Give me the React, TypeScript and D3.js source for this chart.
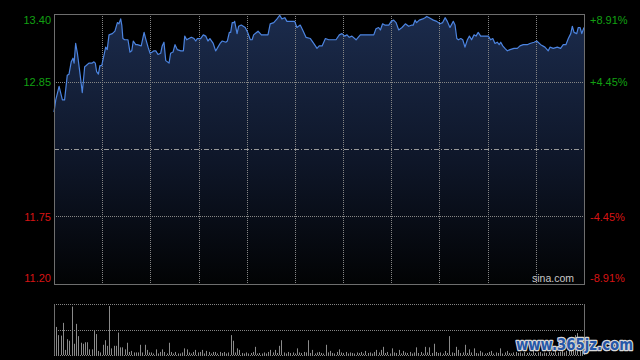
import React from "react";
import * as d3 from "d3";

// ---- data ----
const minutes = [0,0.8,2.3,3.8,4.8,6.0,6.8,7.8,8.6,9.1,9.8,10.6,11.8,12.8,13.9,14.6,15.8,17.3,18.1,18.7,19.3,20.1,20.8,21.6,22.6,23.4,24.1,24.9,26.4,27.6,28.7,29.4,30.2,30.7,31.2,32.0,33.5,34.4,35.2,35.9,37.0,37.7,39.5,40.8,41.5,42.6,43.5,44.5,45.3,46.1,47.1,48.3,49.0,49.8,50.6,52.1,52.8,53.9,54.8,55.8,57.4,58.6,59.2,60.1,61.1,62.2,63.4,64.2,64.9,66.4,67.6,68.7,69.7,70.6,72.1,73.2,73.9,75.2,76.2,77.8,78.5,79.4,80.0,80.7,81.5,
81.8,82.9,83.6,84.8,86.6,87.7,88.9,89.7,90.4,92.4,93.9,95.7,96.9,97.9,99.5,101.0,102.2,103.2,104.5,105.5,109.0,110.0,111.5,112.6,114.1,116.1,117.6,119.1,120.1,121.4,122.9,124.4,126.2,127.7,129.2,130.4,131.6,132.7,133.7,134.9,136.8,138.7,140.2,141.7,143.2,144.8,145.8,147.0,147.8,148.8,149.8,151.6,152.7,153.8,154.9,156.1,157.6,159.1,160.6,162.1,
162.7,163.5,164.2,165.4,167.0,168.0,168.8,169.9,171.8,173.3,174.8,176.0,177.1,178.1,179.3,180.8,181.6,182.4,183.1,184.2,185.1,186.1,187.2,188.1,189.1,190.2,191.1,192.1,193.2,196.7,197.7,198.7,199.7,200.7,201.6,202.3,203.2,204.2,205.3,206.5,208.3,209.8,211.0,212.5,214.3,215.5,217.4,218.6,220.4,222.3,223.8,224.6,226.1,227.9,229.4,230.6,231.8,232.9,234.0,234.7,235.5,236.7,237.4,238.2,239.0,240];

const prices = [12.60,12.70,12.81,12.70,12.70,12.90,12.91,13.01,13.04,13.00,13.16,13.08,12.91,12.76,12.97,12.98,13.00,13.00,13.01,13.00,12.93,12.91,12.98,12.98,13.06,13.13,13.11,13.23,13.24,13.26,13.33,13.32,13.36,13.31,13.20,13.19,13.19,13.09,13.10,13.18,13.15,13.15,13.14,13.25,13.20,13.13,13.08,13.09,13.10,13.10,13.07,13.08,13.14,13.17,13.02,13.00,13.08,13.09,13.15,13.11,13.10,13.10,13.22,13.19,13.20,13.21,13.20,13.18,13.20,13.20,13.23,13.22,13.18,13.20,13.16,13.10,13.12,13.16,13.18,13.17,13.18,13.25,13.25,13.33,13.33,
13.34,13.24,13.30,13.31,13.29,13.25,13.19,13.19,13.23,13.26,13.23,13.23,13.23,13.32,13.33,13.36,13.39,13.36,13.37,13.34,13.34,13.29,13.31,13.27,13.21,13.20,13.16,13.12,13.14,13.14,13.20,13.19,13.19,13.19,13.23,13.24,13.22,13.23,13.21,13.22,13.19,13.23,13.23,13.23,13.23,13.23,13.28,13.29,13.27,13.32,13.31,13.31,13.34,13.35,13.33,13.27,13.29,13.32,13.30,13.31,
13.31,13.35,13.33,13.35,13.36,13.37,13.38,13.37,13.35,13.34,13.32,13.33,13.37,13.34,13.29,13.34,13.31,13.20,13.19,13.20,13.19,13.13,13.19,13.22,13.19,13.23,13.22,13.25,13.22,13.22,13.19,13.20,13.16,13.17,13.15,13.17,13.14,13.12,13.10,13.11,13.12,13.12,13.14,13.15,13.15,13.16,13.17,13.18,13.15,13.13,13.10,13.13,13.12,13.13,13.12,13.15,13.15,13.20,13.24,13.30,13.25,13.24,13.29,13.29,13.24,13.29];

// volume per minute (relative units, panel top = 100)
const volumes = [100,55,39,38,63,10,31,28,95,22,61,37,24,22,25,25,11,11,47,41,8,5,20,29,18,96,13,18,18,44,15,15,11,24,6,8,5,5,5,20,5,20,10,5,5,3,11,3,6,11,6,3,24,6,3,6,3,3,5,13,11,5,3,6,10,5,6,10,3,8,6,3,6,6,3,6,
4,6,3,5,39,28,5,13,10,4,3,5,3,4,6,16,3,4,3,5,3,6,10,5,10,4,18,29,5,3,6,4,5,3,13,5,4,6,5,29,4,10,3,5,6,4,3,20,5,8,4,3,6,11,5,4,6,3,5,4,3,5,4,6,3,8,4,5,3,6,10,5,10,16,4,6,3,13,5,4,10,3,8,5,4,6,3,5,15,4,6,3,16,5,15,4,22,6,4,5,3,8,4,37,5,4,16,10,4,5,20,4,11,5,13,4,3,8,5,3,4,6,8,3,5,4,13,3,5,8,4,3,5,6,4,5,3,6,4,5,3,8,4,5,6,3,5,4,6,5,4,8,5,6,10,5,8,12,15,20,39,43,25,30,46];

const leftLabels = ["13.40", "12.85", "11.75", "11.20"];
const rightLabels = ["+8.91%", "+4.45%", "-4.45%", "-8.91%"];
const labelPrices = [13.40, 12.85, 11.75, 11.20];
const priceMin = 11.20;
const priceMax = 13.40;
const prevClose = 12.30;
const totalMinutes = 240;
const gridDivisions = 11;

export default function App() {
  const left = 54, right = 584, top = 14, bottom = 284;
  const vTop = 304, vBottom = 355;

  const x = d3.scaleLinear().domain([0, totalMinutes]).range([left, right]);
  const y = d3.scaleLinear().domain([priceMin, priceMax]).range([bottom, top]);
  const vy = d3.scaleLinear().domain([0, 100]).range([vBottom, vTop]);

  const pts = d3.zip(minutes, prices) as [number, number][];
  const line = d3.line<[number, number]>().x(d => x(d[0])).y(d => y(d[1]));
  const area = d3.area<[number, number]>().x(d => x(d[0])).y0(bottom).y1(d => y(d[1]));

  const vGrid = d3.range(1, gridDivisions).map(i => Math.round(left + (i * (right - left)) / gridDivisions) + 0.5);
  const dotted = "1,1";
  const gridColor = "#858585";
  const green = "#12a012";
  const red = "#d81414";
  const font = "'Liberation Sans', Arial, sans-serif";

  const labelY = (i: number) => {
    const yy = y(labelPrices[i]);
    if (i === 0) return yy + 10;
    if (i === labelPrices.length - 1) return yy - 2;
    return yy + 4;
  };

  return (
    <div style={{ position: "absolute", left: 0, top: 0 }}>
      <svg width={640} height={360} style={{ display: "block", background: "#000" }}>
        <defs>
          <linearGradient id="fillGrad" gradientUnits="userSpaceOnUse" x1="0" y1={top} x2="0" y2={bottom}>
            <stop offset="0%" stopColor="#1b2b4c" />
            <stop offset="55%" stopColor="#0e1628" />
            <stop offset="100%" stopColor="#020304" />
          </linearGradient>
        </defs>
        <rect x={0} y={0} width={640} height={360} fill="#000" />

        {/* price area */}
        <path d={area(pts) || ""} fill="url(#fillGrad)" />

        {/* grid */}
        {vGrid.map((gx, i) => (
          <line key={"v" + i} x1={gx} x2={gx} y1={top} y2={bottom} stroke={gridColor} strokeDasharray={dotted} />
        ))}
        {[12.85, 11.75].map((p, i) => (
          <line key={"h" + i} x1={left} x2={right} y1={Math.round(y(p)) + 0.5} y2={Math.round(y(p)) + 0.5} stroke={gridColor} strokeDasharray={dotted} />
        ))}
        <line x1={left} x2={right} y1={Math.round(y(prevClose)) + 0.5} y2={Math.round(y(prevClose)) + 0.5} stroke="#9a9a9a" strokeDasharray="5,2,1,2" />

        {/* price line */}
        <path d={line(pts) || ""} fill="none" stroke="#4c84e0" strokeWidth={1.2} strokeLinejoin="round" />

        {/* border */}
        <rect x={left + 0.5} y={top + 0.5} width={right - left} height={bottom - top} fill="none" stroke="#6e6e6e" />

        {/* labels */}
        {leftLabels.map((t, i) => (
          <text key={"l" + i} x={51} y={labelY(i)} textAnchor="end" fontFamily={font} fontSize={11} fill={i < 2 ? green : red}>{t}</text>
        ))}
        {rightLabels.map((t, i) => (
          <text key={"r" + i} x={590} y={labelY(i)} textAnchor="start" fontFamily={font} fontSize={11} fill={i < 2 ? green : red}>{t}</text>
        ))}
        <text x={532} y={282} fontFamily={font} fontSize={10.5} fill="#c8c8c8">sina.com</text>

        {/* volume panel */}
        {[vTop, (vTop + vBottom) / 2, vBottom].map((yy, i) => (
          <line key={"vg" + i} x1={left} x2={right} y1={Math.round(yy) + 0.5} y2={Math.round(yy) + 0.5} stroke={gridColor} strokeDasharray={dotted} />
        ))}
        {volumes.map((v, i) => {
          const bx = Math.round(x(i)) + 0.5;
          return <line key={"b" + i} x1={bx} x2={bx} y1={vBottom} y2={vy(v)} stroke="#8a8a8a" strokeWidth={1} />;
        })}
        <line x1={left + 0.5} x2={left + 0.5} y1={vTop} y2={vBottom} stroke="#6e6e6e" />
        <line x1={right + 0.5} x2={right + 0.5} y1={vTop} y2={vBottom} stroke="#6e6e6e" />

        {/* site watermark */}
        <text x={516} y={350} fontFamily="'DejaVu Sans', sans-serif" fontWeight="bold" fontSize={15} textLength={117} lengthAdjust="spacingAndGlyphs"
          fill="#2657a8" stroke="#d8d8d8" strokeWidth={2.5} paintOrder="stroke" strokeLinejoin="round">www.365jz.com</text>
      </svg>
    </div>
  );
}
